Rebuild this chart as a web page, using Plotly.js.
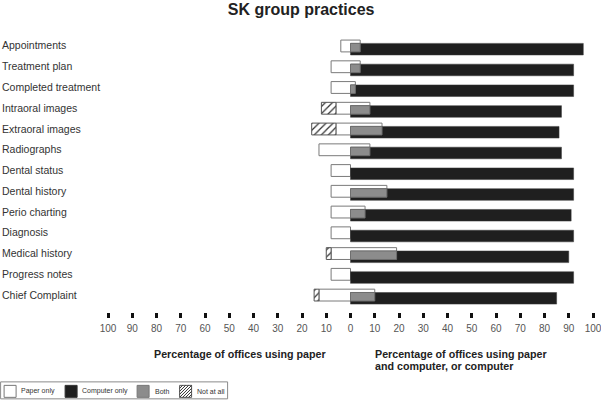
<!DOCTYPE html>
<html>
<head>
<meta charset="utf-8">
<script src="https://cdn.plot.ly/plotly-3.0.1.min.js"></script>
<style>html,body{margin:0;padding:0;background:#fff;}#chart{width:601px;height:403px;}</style>
</head>
<body>
<div id="chart"></div>
<script>
const categories = ["Appointments","Treatment plan","Completed treatment","Intraoral images","Extraoral images","Radiographs","Dental status","Dental history","Perio charting","Diagnosis","Medical history","Progress notes","Chief Complaint"];
const paperOnly    = [4, 8, 8, 6, 6, 13, 8, 8, 8, 8, 8, 8, 13];
const both         = [4, 4, 2, 8, 13, 8, 0, 15, 6, 0, 19, 0, 10];
const computerOnly = [92, 88, 90, 79, 73, 79, 92, 77, 85, 92, 71, 92, 75];
const notAtAll     = [0, 0, 0, 6, 10, 0, 0, 0, 0, 0, 2, 0, 2];
const tickValues = [-100,-90,-80,-70,-60,-50,-40,-30,-20,-10,0,10,20,30,40,50,60,70,80,90,100];
const tickLabels = ["100","90","80","70","60","50","40","30","20","10","0","10","20","30","40","50","60","70","80","90","100"];
const legendLabels = ["Paper only","Computer only","Both","Not at all"];

const FONT = "Liberation Sans, Arial, sans-serif";
const NARROW = "Liberation Sans Narrow, Arial Narrow, Liberation Sans, sans-serif";
const L = 108.4, R = 7.6, T = 30, B = 90.5;
const W = 601, H = 403;
const pw = W - L - R, ph = H - T - B;
const px2x = p => (p - L) / pw;
const py2y = p => (H - B - p) / ph;
const nz = v => (v === 0 ? null : v);

const traces = [
  { // paper box: from -paperOnly to +both
    type: 'bar', orientation: 'h', y: categories,
    x: paperOnly.map((v, i) => v + both[i]), base: paperOnly.map(v => -v),
    offset: -0.26, width: 0.57,
    marker: { color: '#ffffff', line: { color: '#7a7a7a', width: 1 } },
    name: legendLabels[0], hoverinfo: 'skip'
  },
  { // computer (both + computer only)
    type: 'bar', orientation: 'h', y: categories,
    x: computerOnly.map((v, i) => v + both[i]), base: 0,
    offset: -0.10, width: 0.56,
    marker: { color: '#1f1f1f', line: { color: '#3a3a3a', width: 0.5 } },
    name: legendLabels[1], hoverinfo: 'skip'
  },
  { // both
    type: 'bar', orientation: 'h', y: categories,
    x: both.map(nz), base: 0,
    offset: -0.10, width: 0.41,
    marker: { color: '#8c8c8c', line: { color: '#6e6e6e', width: 1 } },
    name: legendLabels[2], hoverinfo: 'skip'
  },
  { // not at all
    type: 'bar', orientation: 'h', y: categories,
    x: notAtAll.map(nz), base: notAtAll.map((v, i) => -(v + paperOnly[i])),
    offset: -0.26, width: 0.57,
    marker: { color: '#ffffff', line: { color: '#555555', width: 1 },
      pattern: { shape: '/', fgcolor: '#333333', bgcolor: '#ffffff', size: 5, solidity: 0.25 } },
    name: legendLabels[3], hoverinfo: 'skip'
  }
];

const annotations = [];
categories.forEach(c => annotations.push({
  xref: 'paper', yref: 'y', x: px2x(0), y: c, xanchor: 'left', yanchor: 'middle',
  text: c, showarrow: false, font: { family: FONT, size: 10.5, color: '#333333' }
}));
annotations.push({ xref: 'paper', yref: 'paper', x: px2x(152.5), y: py2y(355), xanchor: 'left', yanchor: 'middle',
  text: '<b>Percentage of offices using paper</b>', showarrow: false, font: { family: FONT, size: 10.7, color: '#222' } });
annotations.push({ xref: 'paper', yref: 'paper', x: px2x(373), y: py2y(355), xanchor: 'left', yanchor: 'middle',
  text: '<b>Percentage of offices using paper</b>', showarrow: false, font: { family: FONT, size: 10.7, color: '#222' } });
annotations.push({ xref: 'paper', yref: 'paper', x: px2x(373), y: py2y(366.7), xanchor: 'left', yanchor: 'middle',
  text: '<b>and computer, or computer</b>', showarrow: false, font: { family: FONT, size: 10.7, color: '#222' } });

// manual legend
const shapes = [];
const rect = (x0, y0, x1, y1, fill, line, lw) => shapes.push({ type: 'rect', xref: 'paper', yref: 'paper',
  x0: px2x(x0), x1: px2x(x1), y0: py2y(y1), y1: py2y(y0), fillcolor: fill, line: { color: line, width: lw } });
rect(1, 382.5, 228, 399.5, 'rgba(0,0,0,0)', '#8a8a8a', 1);
const sw = [[4.5, '#ffffff', '#777'], [65.5, '#1f1f1f', '#333'], [137.5, '#8c8c8c', '#777'], [180, '#ffffff', '#555']];
const tx = [20, 81, 154, 196];
sw.forEach((s, i) => {
  rect(s[0], 386, s[0] + 12, 398, s[1], s[2], 1);
  annotations.push({ xref: 'paper', yref: 'paper', x: px2x(tx[i] - 1), y: py2y(392), xanchor: 'left', yanchor: 'middle',
    text: legendLabels[i], showarrow: false, font: { family: FONT, size: 7, color: '#333' } });
});
// hatch lines in last swatch
(function () {
  const x0 = 180, yb = 398, s = 12;
  for (let k = -9; k <= 9; k += 3) {
    const u0 = Math.max(0, -k), u1 = Math.min(s, s - k);
    if (u1 <= u0) continue;
    shapes.push({ type: 'line', xref: 'paper', yref: 'paper',
      x0: px2x(x0 + u0), y0: py2y(yb - (u0 + k)), x1: px2x(x0 + u1), y1: py2y(yb - (u1 + k)),
      line: { color: '#333', width: 1 } });
  }
})();

const layout = {
  width: W, height: H,
  margin: { l: L, r: R, t: T, b: B, pad: 0 },
  paper_bgcolor: '#ffffff', plot_bgcolor: '#ffffff',
  barmode: 'overlay', showlegend: false,
  title: { text: '<b>SK group practices</b>', font: { family: FONT, size: 16, color: '#222' },
    xref: 'container', x: 0.501, xanchor: 'center', yref: 'container', y: 1 - 9 / H, yanchor: 'middle' },
  xaxis: {
    range: [-100, 100], tickmode: 'array', tickvals: tickValues, ticktext: tickLabels,
    ticks: 'outside', ticklen: 5, tickwidth: 3, tickcolor: '#111', ticklabelstandoff: 2,
    ticklabeloverflow: 'allow',
    showline: false, showgrid: false, zeroline: false, fixedrange: true,
    tickfont: { family: NARROW, size: 10, color: '#555' }
  },
  yaxis: {
    type: 'category', range: [12.84, -0.745], showticklabels: false, ticks: '',
    showline: false, showgrid: false, zeroline: false, fixedrange: true
  },
  annotations: annotations, shapes: shapes,
  font: { family: FONT }
};

Plotly.newPlot('chart', traces, layout, { displayModeBar: false, staticPlot: true });
</script>
</body>
</html>
